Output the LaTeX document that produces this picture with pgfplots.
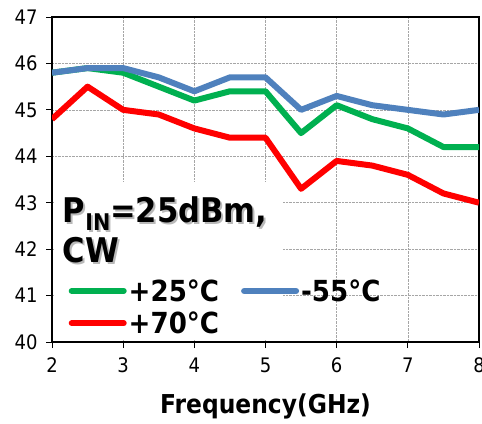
\documentclass[border=0pt]{standalone}
\usepackage{fontspec}
\setmainfont[FakeStretch=0.9]{DejaVu Sans}
\usepackage{pgfplots}
\pgfplotsset{compat=1.18}
\definecolor{cgreen}{HTML}{00B050}
\definecolor{cblue}{HTML}{4F81BD}
\definecolor{cred}{HTML}{FF0000}
\begin{document}
\begin{tikzpicture}
\begin{axis}[name=ax, scale only axis, width=427pt, height=325pt,
  xmin=2, xmax=8, ymin=40, ymax=47,
  xtick={2,3,4,5,6,7,8}, ytick={40,41,42,43,44,45,46,47},
  grid=major, major grid style={densely dotted, gray!70, line width=0.6pt},
  axis line style={line width=2.5pt, black, line join=miter},
  tick align=outside, tick pos=left, major tick length=6pt,
  tick style={black, line width=0.8pt},
  ticklabel style={font=\fontsize{20}{20}\selectfont},
  xticklabel style={yshift=-6pt},
  yticklabel style={xshift=-5pt},
  /pgf/number format/assume math mode=true,
  xlabel={Frequency(GHz)},
  xlabel style={font=\fontsize{26}{26}\selectfont\bfseries, yshift=-14pt},
  legend columns=2,
  legend cell align=left,
  legend style={draw=none, fill=none, at={(axis cs:2.19,41.44)}, anchor=north west,
    font=\fontsize{29}{31}\selectfont\bfseries,
    nodes={inner sep=2pt},
    /tikz/every even column/.append style={column sep=20pt},
    row sep=5pt},
  legend image code/.code={\draw[line cap=round] (0pt,0pt) -- (52pt,0pt);},
]
\fill[white] ([shift={(2pt,2pt)}]axis cs:2,40) rectangle (axis cs:5.24,43.44);

% +25 C
\addplot[cgreen, line width=6pt, line join=round, forget plot] coordinates {
(2,45.8) (2.5,45.9) (3,45.8) (3.5,45.5) (4,45.2) (4.5,45.4) (5,45.4) (5.5,44.5) (6,45.1) (6.5,44.8) (7,44.6) (7.5,44.2) (8,44.2)};
% -55 C
\addplot[cblue, line width=6pt, line join=round, forget plot] coordinates {
(2,45.8) (2.5,45.9) (3,45.9) (3.5,45.7) (4,45.4) (4.5,45.7) (5,45.7) (5.5,45.0) (6,45.3) (6.5,45.1) (7,45.0) (7.5,44.9) (8,45.0)};
% +70 C
\addplot[cred, line width=6pt, line join=round, forget plot] coordinates {
(2,44.8) (2.5,45.5) (3,45.0) (3.5,44.9) (4,44.6) (4.5,44.4) (5,44.4) (5.5,43.3) (6,43.9) (6.5,43.8) (7,43.6) (7.5,43.2) (8,43.0)};

\addlegendimage{cgreen, line width=6pt}
\addlegendentry{+25°C}
\addlegendimage{cblue, line width=6pt}
\addlegendentry{-55°C}
\addlegendimage{cred, line width=6pt}
\addlegendentry{+70°C}

\node[anchor=base west, inner sep=0pt, text=gray!55, font=\fontsize{34}{34}\selectfont\bfseries] at ([shift={(2pt,-2pt)}]axis cs:2.15,42.58) {P\raisebox{-8pt}{\fontsize{23}{23}\selectfont IN}=25dBm,};
\node[anchor=base west, inner sep=0pt, text=gray!55, font=\fontsize{34}{34}\selectfont\bfseries] at ([shift={(2pt,-2pt)}]axis cs:2.15,41.72) {CW};
\node[anchor=base west, inner sep=0pt, font=\fontsize{34}{34}\selectfont\bfseries] at (axis cs:2.15,42.58) {P\raisebox{-8pt}{\fontsize{23}{23}\selectfont IN}=25dBm,};
\node[anchor=base west, inner sep=0pt, font=\fontsize{34}{34}\selectfont\bfseries] at (axis cs:2.15,41.72) {CW};
\end{axis}
\pgfresetboundingbox
\path ([shift={(-52pt,-81pt)}]ax.south west) rectangle ([shift={(3pt,17pt)}]ax.north east);
\end{tikzpicture}
\end{document}
